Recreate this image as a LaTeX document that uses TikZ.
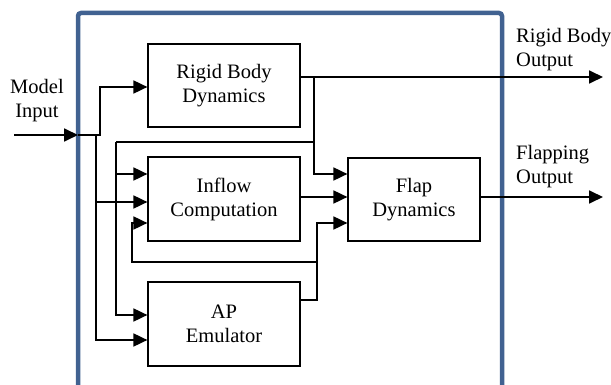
\documentclass[tikz,border=0pt]{standalone}
\usepackage{fontspec}
\setmainfont{Liberation Serif}
\usetikzlibrary{arrows.meta}
\definecolor{marcoazul}{RGB}{65,98,145}
\tikzset{
  bloque/.style={draw, line width=1.2pt, minimum width=152pt, minimum height=83pt, align=center, inner sep=0pt},
  senal/.style={line width=1.8pt},
  flecha/.style={senal, -{Triangle[length=14pt,width=13pt]}},
  etiqueta/.style={align=left, inner sep=0pt, anchor=north west},
}
\begin{document}
\begin{tikzpicture}[x=1pt,y=-1pt,font=\rmfamily\fontsize{20.5}{24}\selectfont]
  % Marco de la figura
  \useasboundingbox (0,0) rectangle (611,385);
  % Recuadro azul del modelo
  \draw[marcoazul, line width=4.5pt, rounded corners=3pt] (78,400) -- (78,13) -- (502,13) -- (502,400);
  % Bloques
  \node[bloque] (rbd) at (224,85.5) {Rigid Body\\Dynamics};
  \node[bloque, minimum height=84pt] (inflow) at (224,199) {Inflow\\Computation};
  \node[bloque, minimum height=84pt] (ap) at (224,324) {AP\\Emulator};
  \node[bloque, minimum width=132pt] (flap) at (414,199.5) {Flap\\Dynamics};
  % Etiquetas de entrada y salida
  \node[align=center, anchor=north, inner sep=0pt] (lblin) at (37,79) {Model\\Input};
  \node[etiqueta] (lblrb) at (516,28) {Rigid Body\\Output};
  \node[etiqueta] (lblflap) at (516,145) {Flapping\\Output};
  % Puntos de entrada, salida y derivaciones
  \coordinate (in) at (14,135);
  \coordinate (inframe) at (78,135);
  \coordinate (rbout) at (603,77);
  \coordinate (flapout) at (603,197);
  \coordinate (ja) at (100,135);
  \coordinate (jb) at (96,135);
  \coordinate (jc) at (116,142);
  \coordinate (jd) at (314,77);
  \coordinate (je) at (314,142);
  \coordinate (jf) at (317,262);
  \coordinate (jg) at (132,262);
  % Entrada del modelo
  \draw[flecha] (in) -- (inframe);
  \draw[flecha] (inframe) -- (ja) |- ([yshift=-1.5pt]rbd.west);
  \draw[senal] (inframe) -- (jb);
  \draw[flecha] (jb) |- ([yshift=-16pt]ap.west);
  \draw[flecha] ([yshift=-3pt]inflow.west -| jb) -- ([yshift=-3pt]inflow.west);
  % Salida de cuerpo rigido
  \draw[flecha] ([yshift=8.5pt]rbd.east) -- (rbout);
  \draw[flecha] (jd) |- ([yshift=25.5pt]flap.west);
  \draw[senal] (je) -- (jc);
  \draw[flecha] (jc) |- ([yshift=9pt]ap.west);
  \draw[flecha] ([yshift=25pt]inflow.west -| jc) -- ([yshift=25pt]inflow.west);
  % Inflow hacia flap
  \draw[flecha] ([yshift=2pt]inflow.east) -- ([yshift=2.5pt]flap.west);
  % Emulador AP y lazo de realimentacion
  \draw[senal] ([yshift=24pt]ap.east) -| (jf);
  \draw[flecha] (jf) |- ([yshift=-23.5pt]flap.west);
  \draw[flecha] (jf) -- (jg) |- ([yshift=-24pt]inflow.west);
  % Salida de flapping
  \draw[flecha] ([yshift=2.5pt]flap.east) -- (flapout);
\end{tikzpicture}
\end{document}
